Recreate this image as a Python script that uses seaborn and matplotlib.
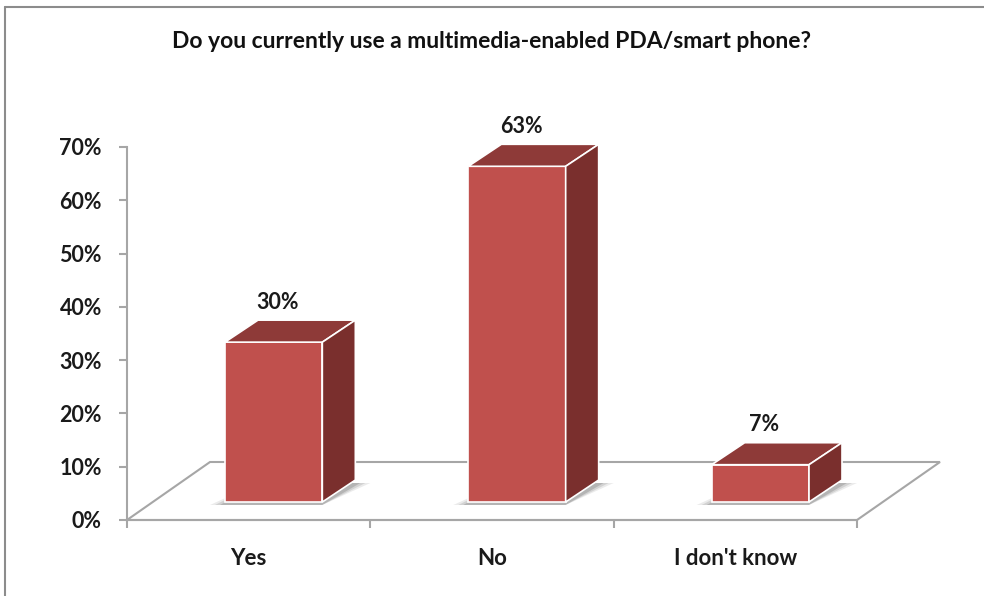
import numpy as np
import pandas as pd
import seaborn as sns
import matplotlib.pyplot as plt
from matplotlib.patches import Polygon
from matplotlib.lines import Line2D
from matplotlib.transforms import IdentityTransform, ScaledTranslation

# data
answers = ["Yes", "No", "I don't know"]
shares = [0.30, 0.63, 0.07]
value_labels = ["30%", "63%", "7%"]
y_ticks = [0, 0.1, 0.2, 0.3, 0.4, 0.5, 0.6, 0.7]
y_tick_labels = ["0%", "10%", "20%", "30%", "40%", "50%", "60%", "70%"]
title = "Do you currently use a multimedia-enabled PDA/smart phone?"

# colours
front_c = "#C0504D"
top_c = "#8E3A38"
side_c = "#7A2F2D"
axis_c = "#A6A6A6"

# fake 3d geometry, in pixels
BAR_SHIFT = np.array([25.0, 18.0])
BAR_DEPTH = np.array([33.0, 22.0])
FLOOR_DEPTH = np.array([83.0, 58.0])

sns.set_style("white")
plt.rcParams["font.family"] = ["Lato", "DejaVu Sans"]
plt.rcParams["font.weight"] = "bold"

df = pd.DataFrame({"answer": answers, "share": shares})

fig = plt.figure(figsize=(9.84, 5.96), dpi=100)
ax = fig.add_axes([127 / 984, 76 / 596, 730 / 984, 373 / 596])
sns.barplot(data=df, x="answer", y="share", color=front_c, saturation=1,
            width=0.4, edgecolor="white", linewidth=1.2, ax=ax, zorder=3)
ax.set_xlim(-0.5, 2.5)
ax.set_ylim(0, 0.7)
ax.set_xlabel("")
ax.set_ylabel("")

# axes look
for s in ["top", "right"]:
    ax.spines[s].set_visible(False)
for s in ["left", "bottom"]:
    ax.spines[s].set_color(axis_c)
    ax.spines[s].set_linewidth(1.5)
ax.set_yticks(y_ticks, labels=y_tick_labels)
ax.set_xticks([-0.5, 0.5, 1.5, 2.5], labels=["", "", "", ""])
ax.set_xticks([0, 1, 2], labels=answers, minor=True)
ax.tick_params(axis="y", length=6, width=1.5, color=axis_c, pad=12,
               labelsize=15.5, direction="out", left=True)
ax.tick_params(axis="x", which="major", length=6, width=1.5, color=axis_c,
               direction="out", bottom=True)
ax.tick_params(axis="x", which="minor", length=0, pad=20.5, labelsize=16)
for t in ax.get_xticklabels(minor=True) + ax.get_yticklabels():
    t.set_fontweight("bold")
    t.set_color("#1a1a1a")

to_px = ax.transData.transform
ident = IdentityTransform()

# floor of the 3d box
a = to_px((-0.5, 0))
b = to_px((2.5, 0))
floor = Polygon([a, b, b + FLOOR_DEPTH, a + FLOOR_DEPTH], closed=True,
                fill=False, edgecolor=axis_c, lw=1.5, transform=ident,
                clip_on=False, zorder=1)
ax.add_patch(floor)

shift = ScaledTranslation(BAR_SHIFT[0] / 100, BAR_SHIFT[1] / 100, fig.dpi_scale_trans)
bars = list(ax.containers[0])
for rect, lab in zip(bars, value_labels):
    x0 = rect.get_x()
    w = rect.get_width()
    h = rect.get_height()
    rect.set_transform(ax.transData + shift)
    bl = to_px((x0, 0)) + BAR_SHIFT
    br = to_px((x0 + w, 0)) + BAR_SHIFT
    tl = to_px((x0, h)) + BAR_SHIFT
    tr = to_px((x0 + w, h)) + BAR_SHIFT

    # soft shadow under the footprint
    for k, alpha in zip([15, 10, 5], [0.10, 0.14, 0.20]):
        pad = np.array([k, 0])
        down = np.array([0, -3])
        sh = Polygon([bl - pad + down, br + down, br + BAR_DEPTH + pad + down,
                      bl + BAR_DEPTH + down], closed=True, facecolor="#404040",
                     edgecolor="none", alpha=alpha, transform=ident,
                     clip_on=False, zorder=2)
        ax.add_patch(sh)

    top = Polygon([tl, tr, tr + BAR_DEPTH, tl + BAR_DEPTH], closed=True,
                  facecolor=top_c, edgecolor="white", lw=1.2,
                  transform=ident, clip_on=False, zorder=3)
    side = Polygon([br, tr, tr + BAR_DEPTH, br + BAR_DEPTH], closed=True,
                   facecolor=side_c, edgecolor="white", lw=1.2,
                   transform=ident, clip_on=False, zorder=3)
    ax.add_patch(top)
    ax.add_patch(side)
    ax.annotate(lab, xy=(x0 + w / 2, h), xytext=(29, 58),
                textcoords="offset pixels", ha="center", va="center",
                fontsize=15.5, fontweight="bold", color="#1a1a1a",
                annotation_clip=False)

fig.text(492 / 984, 1 - 42 / 596, title, ha="center", va="center",
         fontsize=16.5, fontweight="bold", color="#111111")

# chart area border (left and top edges visible)
fig.add_artist(Line2D([5 / 984, 5 / 984], [0, 1 - 7 / 596],
                      transform=fig.transFigure, color="#8c8c8c", lw=1.5))
fig.add_artist(Line2D([5 / 984, 1], [1 - 7 / 596, 1 - 7 / 596],
                      transform=fig.transFigure, color="#8c8c8c", lw=1.5))

fig.savefig("out.png", dpi=100, facecolor="white")
